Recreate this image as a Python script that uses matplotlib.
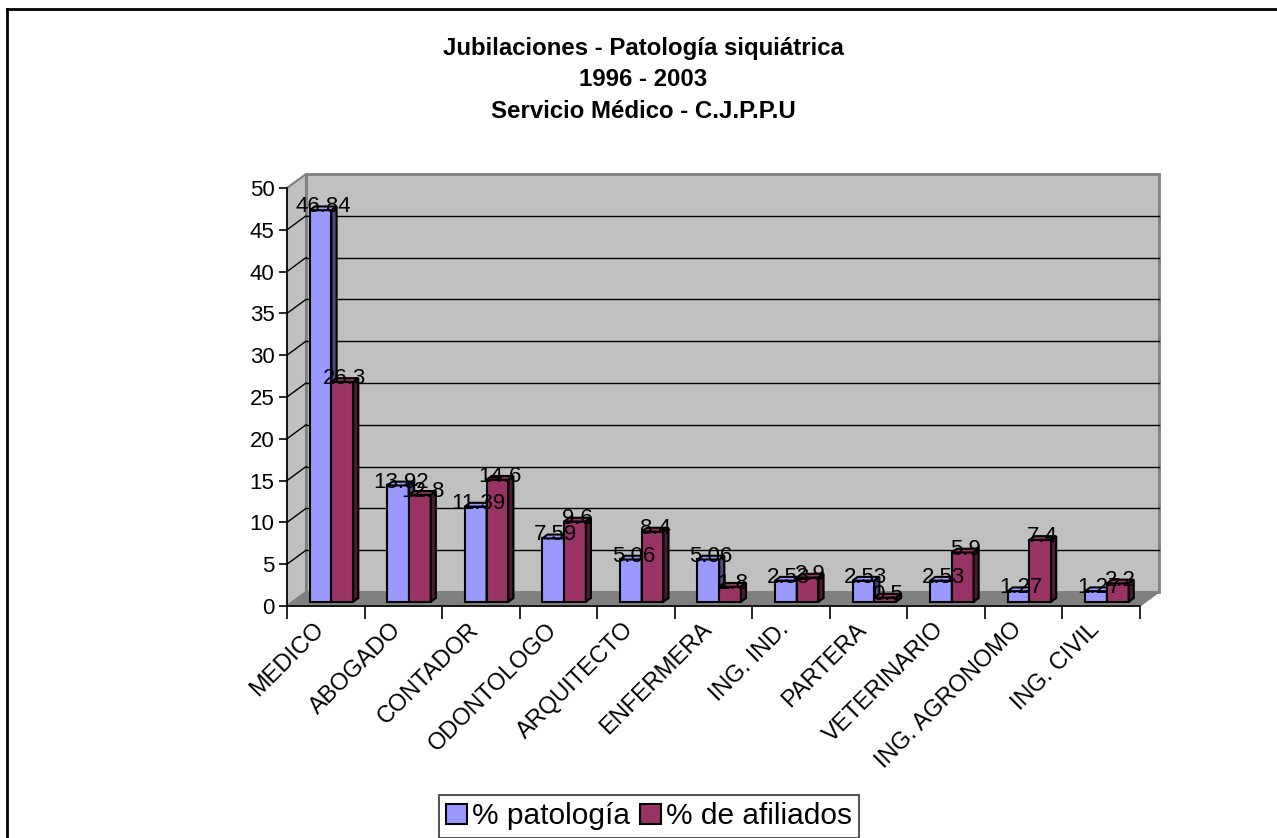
import numpy as np
import matplotlib
matplotlib.use("Agg")
import matplotlib.pyplot as plt
from matplotlib.patches import Polygon, Patch
from matplotlib.lines import Line2D
from matplotlib import transforms

plt.rcParams['font.family'] = ['Liberation Sans', 'DejaVu Sans']

# ---------------- data ----------------
categories = ["MEDICO", "ABOGADO", "CONTADOR", "ODONTOLOGO", "ARQUITECTO",
              "ENFERMERA", "ING. IND.", "PARTERA", "VETERINARIO",
              "ING. AGRONOMO", "ING. CIVIL"]
pct_patologia = [46.84, 13.92, 11.39, 7.59, 5.06, 5.06, 2.53, 2.53, 2.53, 1.27, 1.27]
pct_afiliados = [26.3, 12.8, 14.6, 9.6, 8.4, 1.8, 2.9, 0.5, 5.9, 7.4, 2.2]
series_names = ["% patología", "% de afiliados"]
title_lines = ["Jubilaciones - Patología siquiátrica", "1996 - 2003",
               "Servicio Médico - C.J.P.P.U"]
yticks = list(range(0, 51, 5))

# ---------------- style ----------------
W_PX, H_PX = 1277, 838
DX, DY = 19, 14          # depth offset of the back wall (pixels)
BAR_W = 0.28
D0, D1 = 0.30, 0.57      # bar depth band (fraction of floor depth)
front_cols = ["#9999FF", "#993366"]
top_cols = ["#9999FF", "#993366"]
side_cols = ["#4D4D80", "#4D1A33"]

fig = plt.figure(figsize=(W_PX / 100, H_PX / 100), dpi=100)
ax = fig.add_axes([287 / W_PX, (H_PX - 606) / H_PX,
                   (1140 - 287) / W_PX, (606 - 188) / H_PX])
n = len(categories)
ax.set_xlim(-0.5, n - 0.5)
ax.set_ylim(0, 50)
ax.patch.set_visible(False)
for s in ["top", "right"]:
    ax.spines[s].set_visible(False)
for s in ["left", "bottom"]:
    ax.spines[s].set_color("black")
    ax.spines[s].set_linewidth(1.2)
    ax.spines[s].set_zorder(6)

ident = transforms.IdentityTransform()


def P(x, y, f):
    px, py = ax.transData.transform((x, y))
    return (px + f * DX, py + f * DY)


def poly(pts, fc, ec, lw, z):
    ax.add_patch(Polygon(pts, closed=True, facecolor=fc, edgecolor=ec,
                         linewidth=lw, transform=ident, zorder=z,
                         clip_on=False))


def seg(a, b, z):
    ax.add_line(Line2D([a[0], b[0]], [a[1], b[1]], color="black", lw=1,
                       transform=ident, zorder=z, clip_on=False))


x_lo, x_hi = -0.5, n - 0.5
# back wall
poly([P(x_lo, 0, 1), P(x_hi, 0, 1), P(x_hi, 50, 1), P(x_lo, 50, 1)],
     "#C0C0C0", "#808080", 2, 1)
# side wall
poly([P(x_lo, 0, 0), P(x_lo, 0, 1), P(x_lo, 50, 1), P(x_lo, 50, 0)],
     "#C0C0C0", "#808080", 1.5, 1)
# floor
poly([P(x_lo, 0, 0), P(x_hi, 0, 0), P(x_hi, 0, 1), P(x_lo, 0, 1)],
     "#808080", "#808080", 1, 1.1)

# gridlines on back wall and side wall
for v in yticks[1:-1]:
    a, b = P(x_lo, v, 1), P(x_hi, v, 1)
    seg(a, b, 1.5)
    seg(P(x_lo, v, 0), a, 1.5)

# bars
series = [pct_patologia, pct_afiliados]
dm = (D0 + D1) / 2
for i in range(n):
    for s, vals in enumerate(series):
        v = vals[i]
        x0 = i - BAR_W + s * BAR_W
        x1 = x0 + BAR_W
        z = 3 + i * 0.01 + s * 0.001
        poly([P(x0, 0, D0), P(x1, 0, D0), P(x1, v, D0), P(x0, v, D0)],
             front_cols[s], "black", 1.5, z)
        poly([P(x0, v, D0), P(x1, v, D0), P(x1, v, D1), P(x0, v, D1)],
             top_cols[s], "black", 1.5, z)
        poly([P(x1, 0, D0), P(x1, 0, D1), P(x1, v, D1), P(x1, v, D0)],
             side_cols[s], "black", 1.5, z)
lab_tr = transforms.offset_copy(ax.transData, fig=fig, x=dm * DX,
                                y=dm * DY - 4, units='dots')
for i in range(n):
    for s, vals in enumerate(series):
        v = vals[i]
        xc = i - BAR_W / 2 + s * BAR_W
        ax.text(xc, v, f"{v:g}", transform=lab_tr, ha="center",
                va="baseline", fontsize=16, color="black", zorder=10,
                clip_on=False)

# axes ticks
ax.set_yticks(yticks)
ax.set_yticklabels([str(t) for t in yticks], fontsize=16)
ax.tick_params(axis="y", direction="out", length=6, width=1.2, pad=3)
ax.set_xticks(np.arange(-0.5, n, 1.0))
ax.set_xticklabels([""] * (n + 1))
ax.tick_params(axis="x", which="major", direction="out", length=9, width=1.2,
               color="black")
ax.set_xticks(np.arange(n), minor=True)
ax.set_xticklabels(categories, minor=True, rotation=45, ha="right",
                   va="top", rotation_mode="anchor", fontsize=17)
ax.tick_params(axis="x", which="minor", length=0, pad=9)
for lbl in ax.get_xticklabels(minor=True):
    lbl.set_transform(lbl.get_transform() +
                      transforms.Affine2D().translate(-13, 0))

# title
for line, yy in zip(title_lines, [48, 80, 111]):
    fig.text(643 / W_PX, 1 - yy / H_PX, line, ha="center", va="center",
             fontsize=17.3, fontweight="bold")

# legend
handles = [Patch(facecolor=front_cols[s], edgecolor="black", linewidth=1.5,
                 label=series_names[s]) for s in range(2)]
leg = fig.legend(handles=handles, loc="upper center",
                 bbox_to_anchor=(649 / W_PX, 1 - 795 / H_PX), ncol=2,
                 fontsize=21.5, frameon=True, fancybox=False,
                 edgecolor="black",
                 handlelength=0.7, handleheight=0.7, handletextpad=0.15,
                 columnspacing=0.35, borderpad=0.25, borderaxespad=0)
leg.get_frame().set_linewidth(1.2)

# outer chart border
fig.add_artist(Line2D([7 / W_PX, 7 / W_PX], [0, 1 - 9 / H_PX],
                      transform=fig.transFigure, color="black", lw=2))
fig.add_artist(Line2D([7 / W_PX, 1], [1 - 9 / H_PX, 1 - 9 / H_PX],
                      transform=fig.transFigure, color="black", lw=2))

fig.savefig("out.png", dpi=100, facecolor="white")
